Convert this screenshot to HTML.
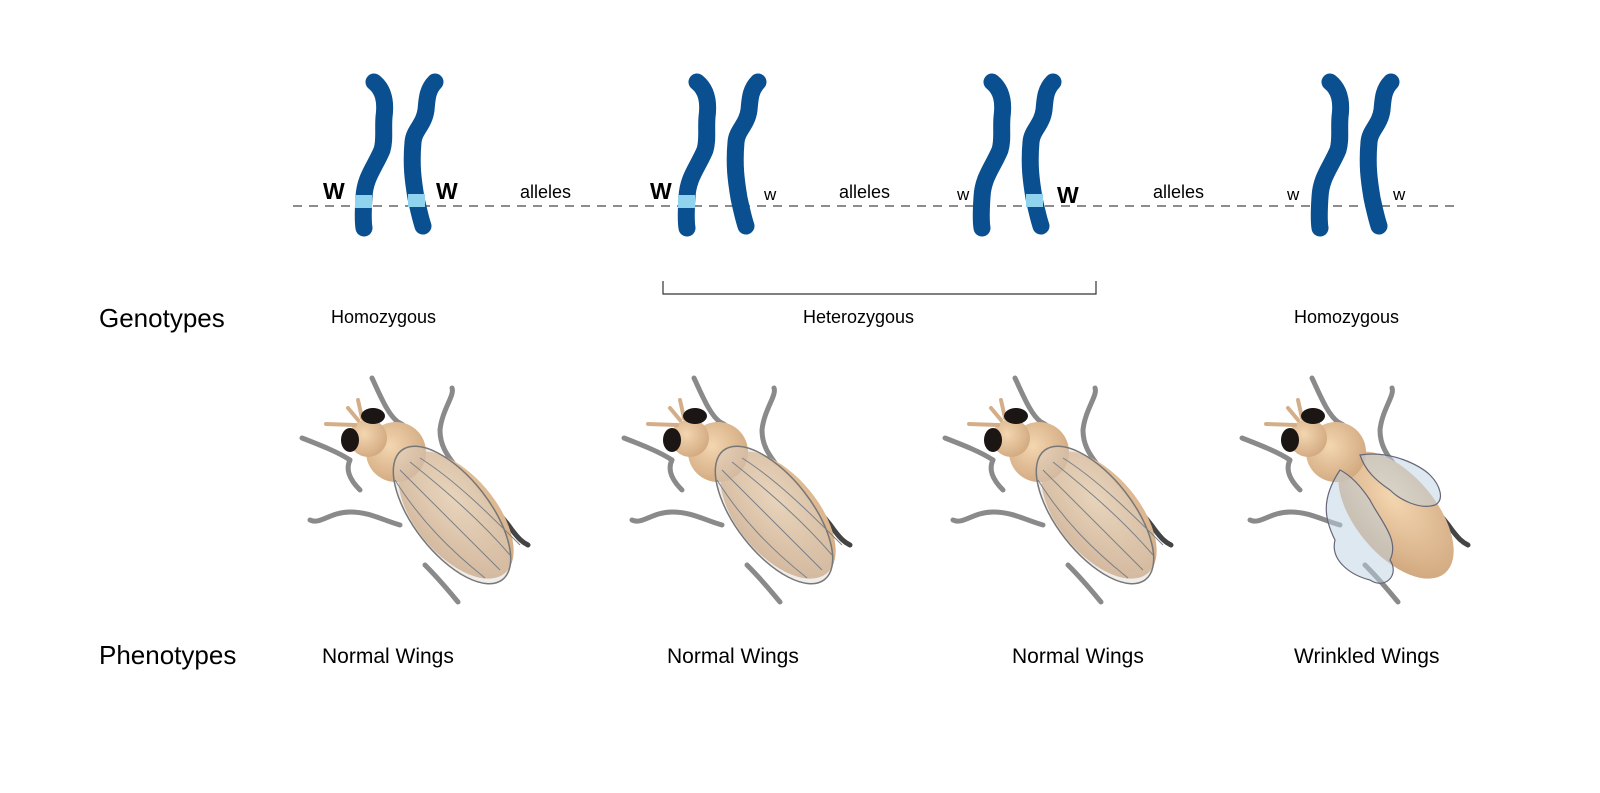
<!DOCTYPE html>
<html><head><style>body{margin:0;background:#fff}svg{display:block}text{font-family:"Liberation Sans",sans-serif}</style></head><body>
<svg width="1600" height="793" viewBox="0 0 1600 793" xmlns="http://www.w3.org/2000/svg">
<defs>
<g id="cl"><path d="M374,82 C384,90 386,102 384,117 C383,130 385,140 382,150 C375,167 365,177 364,197 C363,212 363,222 364,228" fill="none" stroke="#0a4f8f" stroke-width="17" stroke-linecap="round"/></g>
<g id="cr"><path d="M435,82 C427,90 427,100 426,110 C424,125 414,130 413,142 C411,165 413,180 416,198 C419,212 421,220 423,226" fill="none" stroke="#0a4f8f" stroke-width="17" stroke-linecap="round"/></g>
<radialGradient id="tan" cx="40%" cy="40%" r="70%"><stop offset="0" stop-color="#f3d6b0"/><stop offset="1" stop-color="#cfa57c"/></radialGradient>
<g id="legs" fill="none" stroke="#8a8a8a" stroke-width="5" stroke-linecap="round" stroke-linejoin="round">
<path d="M372,378 C380,395 388,415 398,422 C410,428 414,435 410,442"/>
<path d="M452,388 C455,395 442,410 440,430 C440,450 452,460 458,470"/>
<path d="M302,438 C320,445 338,452 350,460 C345,470 350,480 360,490"/>
<path d="M310,520 C320,525 330,512 350,512 C370,512 382,520 400,525"/>
<path d="M465,490 C490,500 505,520 512,530 C518,538 522,542 528,545" stroke="#444"/>
<path d="M425,565 C440,580 448,590 458,602"/>
</g>
<g id="body">
<ellipse cx="456" cy="515" rx="76" ry="40" transform="rotate(50 456 515)" fill="url(#tan)"/>
<circle cx="396" cy="452" r="30" fill="url(#tan)"/>
<circle cx="368" cy="438" r="19" fill="url(#tan)"/>
<path d="M355,425 L326,424 M358,420 L348,408 M362,418 L358,400" stroke="#d4ae88" stroke-width="4" stroke-linecap="round"/>
<ellipse cx="373" cy="416" rx="12" ry="8" fill="#1b1613"/>
<ellipse cx="350" cy="440" rx="9" ry="12" fill="#1b1613"/>
</g>
<g id="fly">
<use href="#legs"/><use href="#body"/>
<ellipse cx="452" cy="515" rx="82" ry="38" transform="rotate(52 452 515)" fill="rgba(215,210,205,0.4)" stroke="#777" stroke-width="1.5"/>
<path d="M400,470 C430,500 460,530 500,570 M395,480 C420,520 450,550 485,578 M410,462 C445,490 480,520 510,555 M420,458 C455,480 490,515 520,545" stroke="#7a8088" stroke-width="1" fill="none"/>
</g>
</defs>
<line x1="293" y1="206" x2="1460" y2="206" stroke="#666" stroke-width="1.5" stroke-dasharray="9,7"/>
<use href="#cl"/><use href="#cr"/>
<rect x="355" y="195" width="17" height="13" fill="#8fd3ee"/>
<rect x="408" y="194" width="17" height="13" fill="#8fd3ee"/>
<g transform="translate(323,0)"><use href="#cl"/><use href="#cr"/></g>
<rect x="678" y="195" width="17" height="13" fill="#8fd3ee"/>
<g transform="translate(618,0)"><use href="#cl"/><use href="#cr"/></g>
<rect x="1026" y="194" width="17" height="13" fill="#8fd3ee"/>
<g transform="translate(956,0)"><use href="#cl"/><use href="#cr"/></g>
<g font-size="23" font-weight="bold"><text x="323" y="199">W</text><text x="436" y="199">W</text><text x="650" y="199">W</text><text x="1057" y="203">W</text></g>
<g font-size="17"><text x="764" y="200">w</text><text x="957" y="200">w</text><text x="1287" y="200">w</text><text x="1393" y="200">w</text></g>
<g font-size="18"><text x="520" y="198">alleles</text><text x="839" y="198">alleles</text><text x="1153" y="198">alleles</text></g>
<path d="M663,281 V294 H1096 V281" fill="none" stroke="#333" stroke-width="1.2"/>
<text x="99" y="327" font-size="26">Genotypes</text>
<g font-size="18"><text x="331" y="323">Homozygous</text><text x="803" y="323">Heterozygous</text><text x="1294" y="323">Homozygous</text></g>
<use href="#fly"/>
<use href="#fly" transform="translate(322,0)"/>
<use href="#fly" transform="translate(643,0)"/>
<g transform="translate(940,0)">
<use href="#legs"/><use href="#body"/>
<path d="M400,470 C380,500 385,520 395,540 C390,560 410,575 430,580 C445,590 460,575 450,560 C460,540 440,520 430,500 C420,485 410,475 400,470Z" fill="rgba(190,210,225,0.5)" stroke="#667" stroke-width="1.2"/>
<path d="M420,455 C450,450 480,465 490,475 C500,485 505,500 495,505 C480,510 460,500 450,490 C435,480 425,470 420,455Z" fill="rgba(190,210,225,0.5)" stroke="#667" stroke-width="1.2"/>
</g>
<text x="99" y="664" font-size="26">Phenotypes</text>
<g font-size="21"><text x="322" y="663">Normal Wings</text><text x="667" y="663">Normal Wings</text><text x="1012" y="663">Normal Wings</text><text x="1294" y="663">Wrinkled Wings</text></g>
</svg>
</body></html>
